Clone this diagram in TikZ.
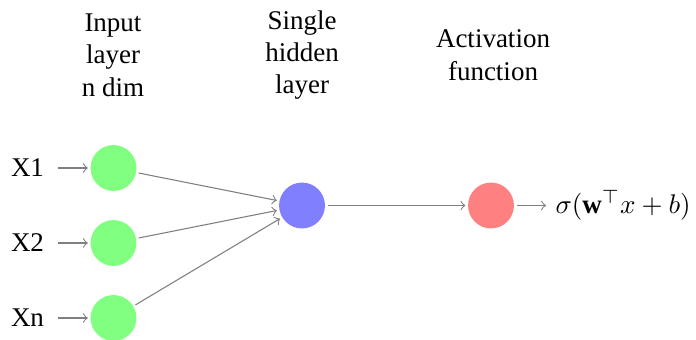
\documentclass[tikz,border=0pt]{standalone}
\usepackage{fontspec}
\setmainfont{Liberation Serif}
\begin{document}
\begin{tikzpicture}[x=0.37037pt,y=-0.37037pt,
  neuron/.style={circle, minimum size=17pt, inner sep=0pt, outer sep=1pt},
  inp/.style={neuron, fill=green!50},
  hid/.style={neuron, fill=blue!50},
  act/.style={neuron, fill=red!50},
  conn/.style={->, draw=gray},
  hdr/.style={align=center}]
\useasboundingbox (0,0) rectangle (696,339);
% headers
\node[hdr] (hin) at (113,55) {Input\\layer\\n dim};
\node[hdr] (hhid) at (302,55) {Single\\hidden\\layer};
\node[hdr] (hact) at (493,55) {Activation\\function};
% input neurons
\node[inp] (i1) at (113.5,168) {};
\node[inp] (i2) at (113.5,243) {};
\node[inp] (i3) at (113.5,318) {};
% labels
\node (x1) at (27.5,168) {X1};
\node (x2) at (27.5,243) {X2};
\node (x3) at (27.5,318) {Xn};
% hidden and activation
\node[hid] (h) at (302,205.5) {};
\node[act] (o) at (491,205.5) {};
\node[anchor=west] (s) at (546,205.5) {$\sigma(\mathbf{w}^\top x+b)$};
% connectors
\draw[conn, shorten <=1.8pt] (x1) -- (i1);
\draw[conn, shorten <=1.8pt] (x2) -- (i2);
\draw[conn, shorten <=1.8pt] (x3) -- (i3);
\draw[conn] (i1) -- (h);
\draw[conn] (i2) -- (h);
\draw[conn] (i3) -- (h);
\draw[conn] (h) -- (o);
\draw[conn] (o) -- (s);
\end{tikzpicture}
\end{document}
